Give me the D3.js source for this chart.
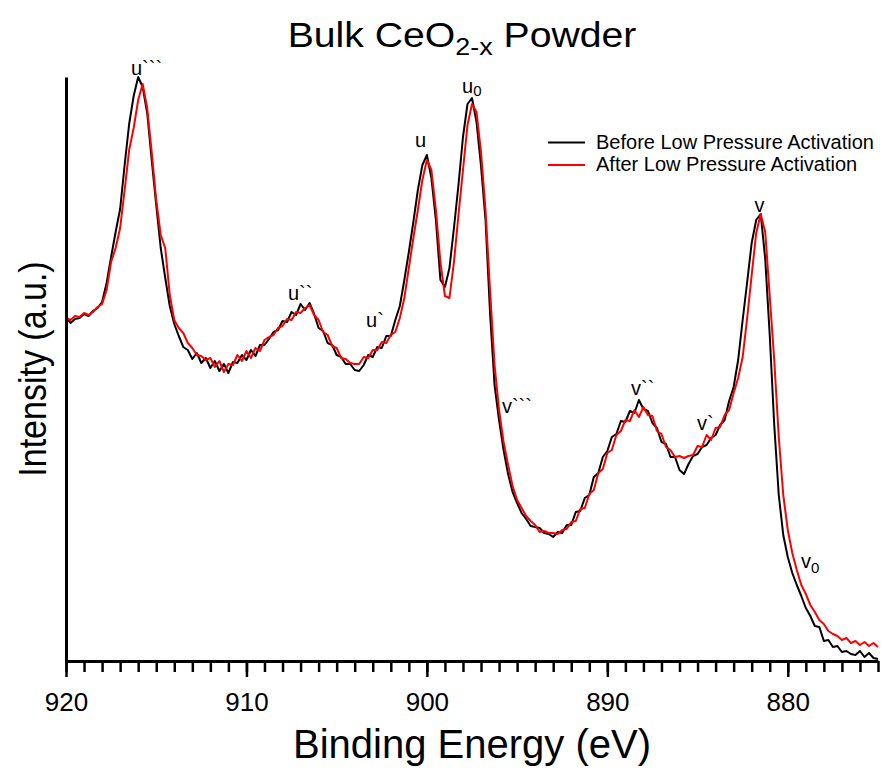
<!DOCTYPE html>
<html>
<head>
<meta charset="utf-8">
<script src="https://cdn.jsdelivr.net/npm/d3@7"></script>
<style>
  body { margin: 0; background: #fff; }
  svg { display: block; }
  text { font-family: "Liberation Sans", Arial, Helvetica, sans-serif; fill: #000; white-space: pre; }
</style>
</head>
<body>
<svg id="chart" width="882" height="769"></svg>
<script>
// Ce 3d XPS region, binding energy in eV (0.25 eV steps)
const bindingEnergy = [
  920, 919.75, 919.5, 919.25, 919, 918.75, 918.5, 918.25,
  918, 917.75, 917.5, 917.25, 917, 916.75, 916.5, 916.25,
  916, 915.75, 915.5, 915.25, 915, 914.75, 914.5, 914.25,
  914, 913.75, 913.5, 913.25, 913, 912.75, 912.5, 912.25,
  912, 911.75, 911.5, 911.25, 911, 910.75, 910.5, 910.25,
  910, 909.75, 909.5, 909.25, 909, 908.75, 908.5, 908.25,
  908, 907.75, 907.5, 907.25, 907, 906.75, 906.5, 906.25,
  906, 905.75, 905.5, 905.25, 905, 904.75, 904.5, 904.25,
  904, 903.75, 903.5, 903.25, 903, 902.75, 902.5, 902.25,
  902, 901.75, 901.5, 901.25, 901, 900.75, 900.5, 900.25,
  900, 899.75, 899.5, 899.25, 899, 898.75, 898.5, 898.25,
  898, 897.75, 897.5, 897.25, 897, 896.75, 896.5, 896.25,
  896, 895.75, 895.5, 895.25, 895, 894.75, 894.5, 894.25,
  894, 893.75, 893.5, 893.25, 893, 892.75, 892.5, 892.25,
  892, 891.75, 891.5, 891.25, 891, 890.75, 890.5, 890.25,
  890, 889.75, 889.5, 889.25, 889, 888.75, 888.5, 888.25,
  888, 887.75, 887.5, 887.25, 887, 886.75, 886.5, 886.25,
  886, 885.75, 885.5, 885.25, 885, 884.75, 884.5, 884.25,
  884, 883.75, 883.5, 883.25, 883, 882.75, 882.5, 882.25,
  882, 881.75, 881.5, 881.25, 881, 880.75, 880.5, 880.25,
  880, 879.75, 879.5, 879.25, 879, 878.75, 878.5, 878.25,
  878, 877.75, 877.5, 877.25, 877, 876.75, 876.5, 876.25,
  876, 875.75, 875.5, 875.25, 875
];

// Intensity (a.u.) before low pressure activation
const beforeActivation = [
  344, 338, 342, 343, 347, 345, 350, 353,
  359, 378, 404, 429, 452, 496, 537, 565,
  584, 574, 548, 501, 456, 413, 383, 355,
  337, 325, 314, 311, 302, 308, 298, 303,
  293, 300, 290, 297, 288, 299, 298, 306,
  301, 311, 305, 316, 316, 322, 329, 331,
  340, 339, 349, 346, 357, 351, 358, 347,
  333, 330, 318, 316, 306, 304, 297, 297,
  291, 290, 296, 306, 304, 314, 313, 325,
  325, 341, 355, 381, 409, 439, 471, 496,
  506, 483, 441, 381, 374, 393, 433, 476,
  524, 557, 563, 539, 495, 441, 348, 276,
  241, 211, 187, 169, 158, 148, 142, 135,
  134, 133, 128, 127, 124, 129, 128, 136,
  136, 149, 150, 163, 166, 184, 188, 204,
  210, 224, 227, 240, 239, 250, 248, 261,
  252, 250, 238, 233, 219, 217, 204, 204,
  191, 187, 197, 205, 207, 214, 216, 223,
  226, 236, 241, 260, 274, 301, 341, 379,
  418, 441, 447, 402, 326, 236, 166, 126,
  104, 88, 76, 65, 53, 45, 35, 34,
  20, 21, 14, 15, 9, 10, 7, 6,
  10, 4, 8, 3, 2
];

// Intensity (a.u.) after low pressure activation
const afterActivation = [
  343, 341, 345, 344, 348, 346, 349, 354,
  357, 371, 399, 413, 433, 471, 511, 533,
  561, 577, 553, 509, 461, 426, 413, 366,
  341, 333, 328, 318, 313, 306, 305, 301,
  303, 294, 300, 289, 297, 296, 306, 300,
  310, 303, 313, 310, 321, 324, 326, 333,
  335, 342, 341, 349, 348, 353, 356, 346,
  341, 329, 326, 315, 313, 303, 302, 298,
  297, 297, 304, 303, 311, 311, 319, 318,
  326, 329, 343, 363, 393, 423, 451, 481,
  501, 491, 451, 399, 365, 363, 399, 446,
  491, 536, 557, 549, 509, 451, 371, 296,
  251, 219, 196, 175, 161, 153, 145, 140,
  136, 129, 130, 128, 128, 127, 131, 132,
  139, 140, 152, 153, 167, 171, 188, 192,
  208, 211, 226, 230, 241, 240, 251, 244,
  254, 246, 245, 230, 227, 214, 211, 204,
  205, 203, 205, 206, 215, 214, 226, 221,
  233, 234, 246, 251, 268, 283, 304, 343,
  386, 428, 447, 429, 365, 301, 224, 166,
  131, 108, 91, 76, 67, 56, 49, 41,
  37, 30, 27, 25, 21, 23, 18, 20,
  16, 19, 15, 18, 14
];

const seriesNames = ["Before Low Pressure Activation", "After Low Pressure Activation"];
const seriesColors = ["#000000", "#ff0000"];
const majorTicks = [920, 910, 900, 890, 880];

// Peak assignments: letter, primes, subscript, energy (eV), intensity (a.u.)
const peakNames = ["u", "u", "u", "u", "u", "v", "v", "v", "v", "v"];
const peakPrimes = ["```", "``", "`", "", "", "```", "``", "`", "", ""];
const peakSubs = ["", "", "", "", "0", "", "", "", "", "0"];
const peakEnergy = [916.4, 907.7, 903.37, 900.66, 898.05, 895.84, 888.69, 885.03, 881.84, 879.27];
const peakLevel = [586, 361, 334, 514, 568, 248, 266, 231, 449, 93];

const svg = d3.select("#chart");

const x = d3.scaleLinear().domain([920, 875]).range([66, 878]);
const y = d3.scaleLinear().domain([0, 584]).range([661, 77]);

// Title
const title = svg.append("text")
  .attr("transform", "translate(462,47) scale(1.12,1)")
  .attr("text-anchor", "middle")
  .style("font-size", "35px");
title.append("tspan").text("Bulk CeO");
title.append("tspan").attr("dy", 8).style("font-size", "24px").text("2-x");
title.append("tspan").attr("dy", -8).text(" Powder");

// Spectra
const line = d3.line()
  .x((d, i) => x(bindingEnergy[i]))
  .y(d => y(d));

[beforeActivation, afterActivation].forEach((series, k) => {
  svg.append("path")
    .datum(series)
    .attr("fill", "none")
    .attr("stroke", seriesColors[k])
    .attr("stroke-width", 2)
    .attr("stroke-linejoin", "round")
    .attr("d", line);
});

// Axes
const minorTicks = bindingEnergy.filter(e => Number.isInteger(e));
const xMinor = svg.append("g")
  .attr("transform", "translate(0,661)")
  .call(d3.axisBottom(x).tickValues(minorTicks).tickSize(11).tickSizeOuter(0).tickFormat(""));
xMinor.select(".domain").remove();
xMinor.selectAll(".tick line").attr("stroke", "#000").attr("stroke-width", 2.5);

const xMajor = svg.append("g")
  .attr("transform", "translate(0,661)")
  .call(d3.axisBottom(x).tickValues(majorTicks).tickSize(16).tickSizeOuter(0).tickPadding(16).tickFormat(d3.format("d")));
xMajor.select(".domain").attr("stroke", "#000").attr("stroke-width", 3);
xMajor.selectAll(".tick line").attr("stroke", "#000").attr("stroke-width", 2.5);
xMajor.selectAll(".tick text")
  .style("font-size", "26px")
  .style("font-family", '"Liberation Sans", Arial, sans-serif')
  .attr("fill", "#000");

const yAxis = svg.append("g")
  .attr("transform", "translate(66,0)")
  .call(d3.axisLeft(y).tickValues([]).tickSizeOuter(0));
yAxis.select(".domain").attr("stroke", "#000").attr("stroke-width", 3);

// Axis titles
svg.append("text")
  .attr("x", 472).attr("y", 758)
  .attr("text-anchor", "middle")
  .style("font-size", "40px")
  .text("Binding Energy (eV)");

svg.append("text")
  .attr("transform", "translate(46,369) scale(1.15,1) rotate(-90)")
  .attr("text-anchor", "middle")
  .style("font-size", "34px")
  .text("Intensity (a.u.)");

// Peak labels
peakNames.forEach((name, i) => {
  const t = svg.append("text")
    .attr("x", x(peakEnergy[i]))
    .attr("y", y(peakLevel[i]))
    .style("font-size", "20px");
  t.append("tspan").text(name + peakPrimes[i]);
  if (peakSubs[i]) {
    t.append("tspan").attr("dy", name === "u" ? 3 : 5).style("font-size", "15px").text(peakSubs[i]);
  }
});

// Legend
const legend = svg.append("g").attr("transform", "translate(548,0)");
seriesNames.forEach((name, k) => {
  const ly = 142.5 + k * 22.5;
  legend.append("line")
    .attr("x1", 0).attr("x2", 37)
    .attr("y1", ly).attr("y2", ly)
    .attr("stroke", seriesColors[k])
    .attr("stroke-width", 2);
  legend.append("text")
    .attr("x", 48).attr("y", ly + 6)
    .style("font-size", "20px")
    .text(name);
});
</script>
</body>
</html>
